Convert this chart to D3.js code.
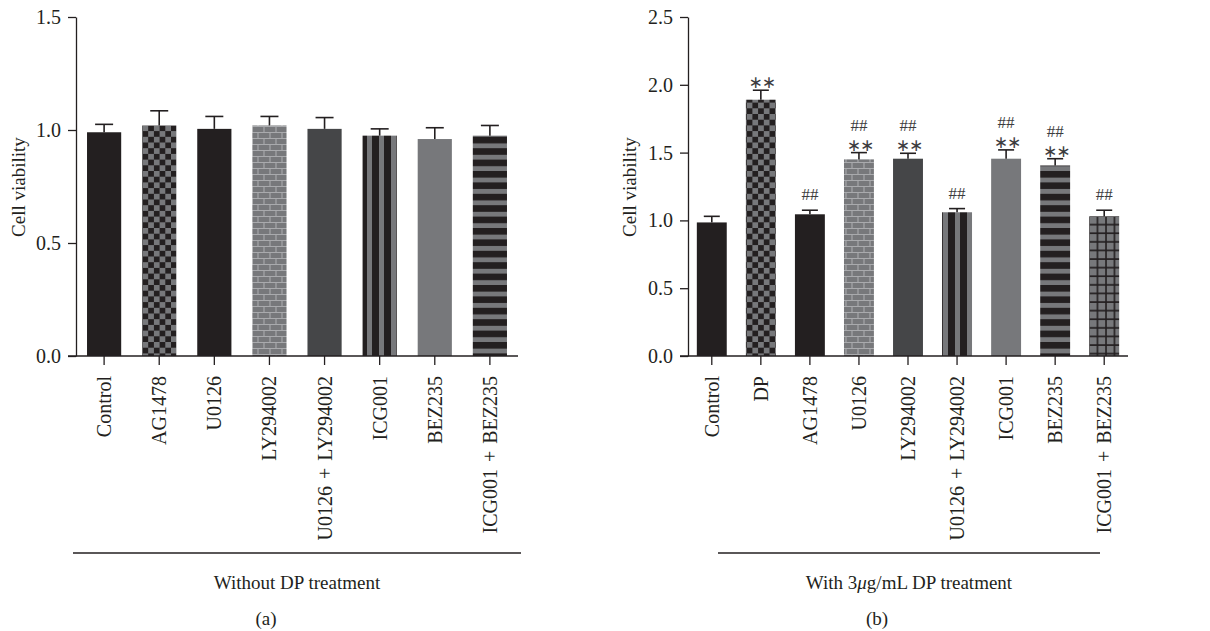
<!DOCTYPE html>
<html>
<head>
<meta charset="utf-8">
<script src="https://cdn.jsdelivr.net/npm/d3@7"></script>
<style>
  body { margin: 0; background: #fff; }
  text { font-family: "Liberation Serif", "Times New Roman", serif; fill: #231f20; }
</style>
</head>
<body>
<div id="chart"></div>
<script>
// Data
const groupsA = ["Control", "AG1478", "U0126", "LY294002", "U0126 + LY294002", "ICG001", "BEZ235", "ICG001 + BEZ235"];
const meansA = [0.99, 1.02, 1.005, 1.02, 1.005, 0.975, 0.96, 0.975];
const errsA = [0.035, 0.065, 0.055, 0.04, 0.05, 0.03, 0.05, 0.045];

const groupsB = ["Control", "DP", "AG1478", "U0126", "LY294002", "U0126 + LY294002", "ICG001", "BEZ235", "ICG001 + BEZ235"];
const meansB = [0.985, 1.89, 1.045, 1.45, 1.455, 1.06, 1.455, 1.405, 1.03];
const errsB = [0.045, 0.07, 0.03, 0.05, 0.04, 0.027, 0.065, 0.05, 0.045];
const starsB = ["", "**", "", "**", "**", "", "**", "**", ""];
const hashB = ["", "", "##", "##", "##", "##", "##", "##", "##"];

const ticksA = [0, 0.5, 1.0, 1.5];
const ticksB = [0, 0.5, 1.0, 1.5, 2.0, 2.5];

// fill look of each bar (by position)
const fillKeyA = ["black", "checker", "black", "brick", "dark", "vstripe", "gray", "hstripe"];
const fillKeyB = ["black", "checker", "black", "brick", "dark", "vstripe", "gray", "hstripe", "grid"];

const svgWidth = 1210;
const svgHeight = 631;
const ink = "#231f20";
const black = "#231f20";
const dark = "#454648";
const gray = "#77787b";
const light = "#a9aaad";

const svg = d3.select("#chart")
  .append("svg")
  .attr("width", svgWidth)
  .attr("height", svgHeight);

// patterns
const defs = svg.append("defs");

const checker = defs.append("pattern")
  .attr("id", "checker")
  .attr("patternUnits", "userSpaceOnUse")
  .attr("width", 11.4).attr("height", 11.4);
checker.append("rect").attr("width", 11.4).attr("height", 11.4).attr("fill", gray);
checker.append("rect").attr("width", 5.7).attr("height", 5.7).attr("fill", black);
checker.append("rect").attr("x", 5.7).attr("y", 5.7).attr("width", 5.7).attr("height", 5.7).attr("fill", black);

const brick = defs.append("pattern")
  .attr("id", "brick")
  .attr("patternUnits", "userSpaceOnUse")
  .attr("width", 12).attr("height", 12);
brick.append("rect").attr("width", 12).attr("height", 12).attr("fill", gray);
brick.append("path")
  .attr("d", "M0,0.5H12M0,6.5H12M6,0V6M0,6V12M12,6V12")
  .attr("stroke", light).attr("stroke-width", 1.1).attr("fill", "none");

const vstripe = defs.append("pattern")
  .attr("id", "vstripe")
  .attr("patternUnits", "userSpaceOnUse")
  .attr("width", 12).attr("height", 12);
vstripe.append("rect").attr("width", 12).attr("height", 12).attr("fill", black);
vstripe.append("rect").attr("x", 7).attr("width", 5).attr("height", 12).attr("fill", gray);

const hstripe = defs.append("pattern")
  .attr("id", "hstripe")
  .attr("patternUnits", "userSpaceOnUse")
  .attr("width", 12).attr("height", 11.4);
hstripe.append("rect").attr("width", 12).attr("height", 11.4).attr("fill", black);
hstripe.append("rect").attr("y", 6.6).attr("width", 12).attr("height", 4.8).attr("fill", gray);

const grid = defs.append("pattern")
  .attr("id", "grid")
  .attr("patternUnits", "userSpaceOnUse")
  .attr("width", 8.5).attr("height", 8.6);
grid.append("rect").attr("width", 8.5).attr("height", 8.6).attr("fill", gray);
grid.append("path")
  .attr("d", "M0,1H8.5M1,0V8.6")
  .attr("stroke", black).attr("stroke-width", 1.6);

const fillFor = {
  black: black,
  dark: dark,
  gray: gray,
  checker: "url(#checker)",
  brick: "url(#brick)",
  vstripe: "url(#vstripe)",
  hstripe: "url(#hstripe)",
  grid: "url(#grid)"
};

// draws one panel
function drawPanel(cfg) {
  const g = svg.append("g");

  const y = d3.scaleLinear()
    .domain([0, cfg.yMax])
    .range([356, 17]);

  const x = d3.scaleBand()
    .domain(cfg.groups)
    .range(cfg.xRange)
    .paddingInner(cfg.padIn)
    .paddingOuter(cfg.padOut);

  // y axis
  const leftAxis = d3.axisLeft(y)
    .tickValues(cfg.ticks)
    .tickFormat(d3.format(".1f"))
    .tickSize(8)
    .tickSizeOuter(0)
    .tickPadding(7);

  const yAxis = g.append("g")
    .attr("transform", `translate(${cfg.xRange[0]},0)`)
    .call(leftAxis);
  yAxis.selectAll("text").style("font-size", "20px").attr("fill", ink);
  yAxis.selectAll("line, path").attr("stroke", ink).attr("stroke-width", 1.3);

  // bars
  g.selectAll("rect.bar")
    .data(cfg.means)
    .enter()
    .append("rect")
    .attr("class", "bar")
    .attr("x", (d, i) => x(cfg.groups[i]))
    .attr("width", x.bandwidth())
    .attr("y", d => y(d))
    .attr("height", d => y(0) - y(d))
    .attr("fill", (d, i) => fillFor[cfg.fills[i]]);

  // error bars
  const cap = cfg.cap;
  const errG = g.selectAll("g.err")
    .data(cfg.means)
    .enter()
    .append("g")
    .attr("class", "err")
    .attr("stroke", ink)
    .attr("stroke-width", 1.6);
  errG.append("line")
    .attr("x1", (d, i) => x(cfg.groups[i]) + x.bandwidth() / 2)
    .attr("x2", (d, i) => x(cfg.groups[i]) + x.bandwidth() / 2)
    .attr("y1", d => y(d))
    .attr("y2", (d, i) => y(d + cfg.errs[i]));
  errG.append("line")
    .attr("x1", (d, i) => x(cfg.groups[i]) + x.bandwidth() / 2 - cap / 2)
    .attr("x2", (d, i) => x(cfg.groups[i]) + x.bandwidth() / 2 + cap / 2)
    .attr("y1", (d, i) => y(d + cfg.errs[i]))
    .attr("y2", (d, i) => y(d + cfg.errs[i]));

  // x axis
  const bottomAxis = d3.axisBottom(x)
    .tickSize(9)
    .tickSizeOuter(0)
    .tickFormat("");
  const xAxis = g.append("g")
    .attr("transform", `translate(0,${y(0)})`)
    .call(bottomAxis);
  xAxis.select(".domain").remove();
  xAxis.selectAll("line").attr("stroke", ink).attr("stroke-width", 1.3);
  xAxis.append("line")
    .attr("x1", cfg.xRange[0] - 8)
    .attr("x2", cfg.xRange[1])
    .attr("stroke", ink)
    .attr("stroke-width", 1.3);

  // rotated category labels
  g.selectAll("text.cat")
    .data(cfg.groups)
    .enter()
    .append("text")
    .attr("class", "cat")
    .attr("transform", d => `translate(${x(d) + x.bandwidth() / 2},376) rotate(-90)`)
    .attr("dy", "0.35em")
    .attr("text-anchor", "end")
    .style("font-size", "20px")
    .style("word-spacing", "2px")
    .text(d => d);

  // y label
  g.append("text")
    .attr("transform", `translate(${cfg.yLabelX},187) rotate(-90)`)
    .attr("dy", "0.35em")
    .attr("text-anchor", "middle")
    .style("font-size", "19px")
    .text("Cell viability");

  // group line and titles
  g.append("line")
    .attr("x1", cfg.line[0])
    .attr("x2", cfg.line[1])
    .attr("y1", 553)
    .attr("y2", 553)
    .attr("stroke", ink)
    .attr("stroke-width", 1.3);

  g.append("text")
    .attr("x", (cfg.line[0] + cfg.line[1]) / 2)
    .attr("y", 589)
    .attr("text-anchor", "middle")
    .style("font-size", "19px")
    .html(cfg.title);

  g.append("text")
    .attr("x", cfg.panelX)
    .attr("y", 625)
    .attr("text-anchor", "middle")
    .style("font-size", "19px")
    .text(cfg.panel);

  return { g: g, x: x, y: y };
}

drawPanel({
  groups: groupsA, means: meansA, errs: errsA, fills: fillKeyA,
  yMax: 1.5, ticks: ticksA,
  xRange: [76, 518], padIn: 0.38, padOut: 0.2, cap: 18,
  yLabelX: 18, line: [73, 521],
  title: "Without DP treatment",
  panel: "(a)", panelX: 266
});

const panelB = drawPanel({
  groups: groupsB, means: meansB, errs: errsB, fills: fillKeyB,
  yMax: 2.5, ticks: ticksB,
  xRange: [688, 1128], padIn: 0.39, padOut: 0.18, cap: 16,
  yLabelX: 629, line: [718, 1100],
  title: "With 3<tspan font-style='italic'>\u03bc</tspan>g/mL DP treatment",
  panel: "(b)", panelX: 877
});

// significance marks in panel (b)
const xB = panelB.x;
const yB = panelB.y;
panelB.g.selectAll("text.star")
  .data(starsB)
  .enter()
  .append("text")
  .attr("class", "star")
  .attr("x", (d, i) => xB(groupsB[i]) + xB.bandwidth() / 2)
  .attr("y", (d, i) => yB(meansB[i] + errsB[i]) - 2)
  .attr("dx", 1)
  .attr("text-anchor", "middle")
  .style("font-family", "DejaVu Sans")
  .style("font-size", "17px")
  .style("letter-spacing", "-1px")
  .style("fill", "#3c3c3e")
  .text(d => d === "**" ? "\u2217\u2217" : "");

panelB.g.selectAll("text.hash")
  .data(hashB)
  .enter()
  .append("text")
  .attr("class", "hash")
  .attr("x", (d, i) => xB(groupsB[i]) + xB.bandwidth() / 2)
  .attr("y", (d, i) => yB(meansB[i] + errsB[i]) - (starsB[i] ? 22 : 10))
  .attr("text-anchor", "middle")
  .style("font-size", "17px")
  .style("fill", "#3c3c3e")
  .text(d => d);
</script>
</body>
</html>
